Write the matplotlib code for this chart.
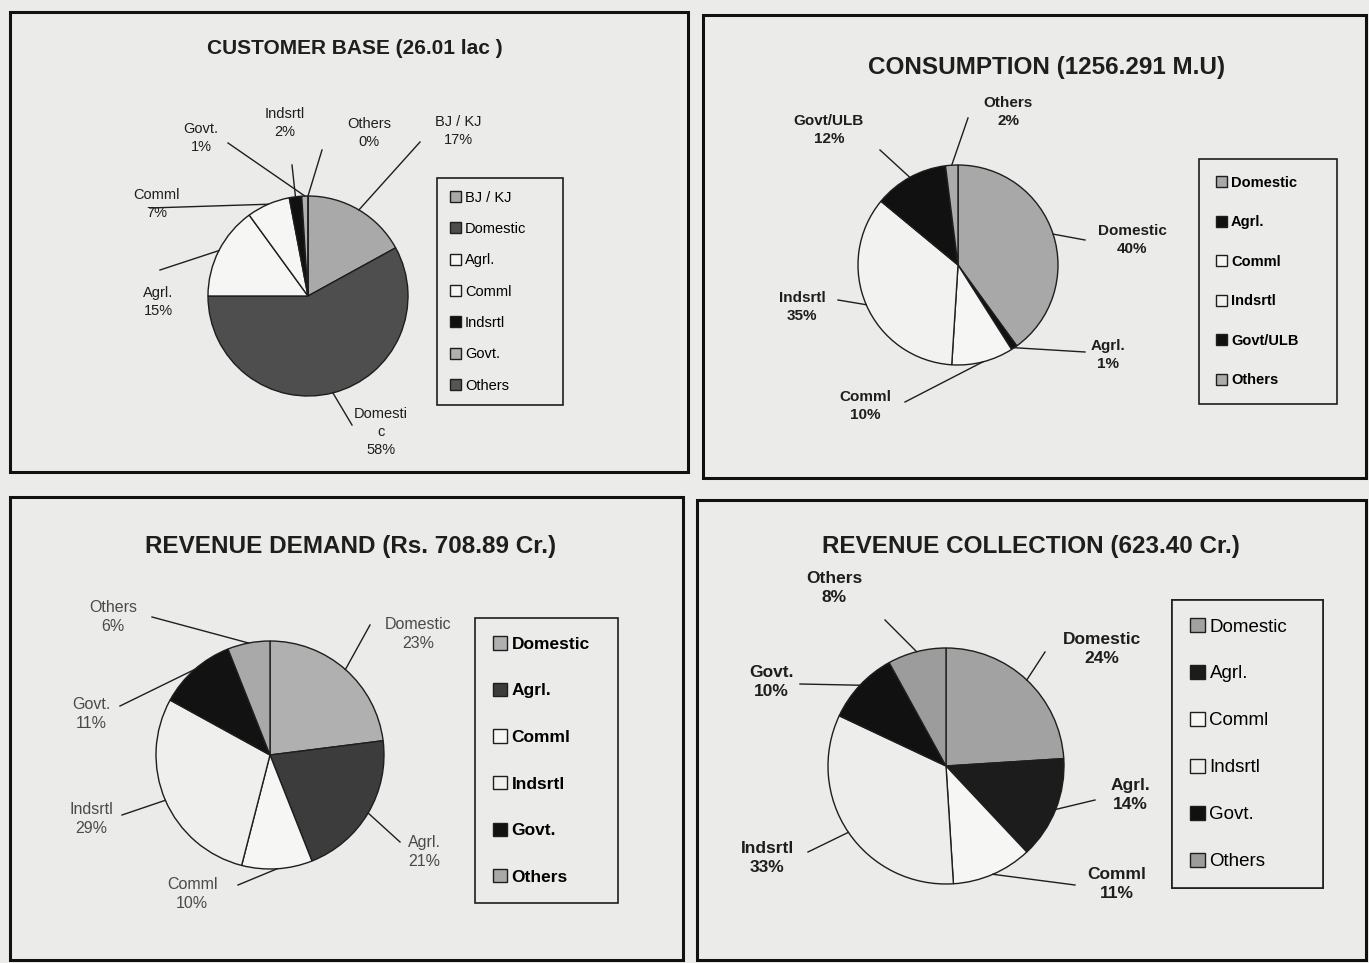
import matplotlib
matplotlib.use("Agg")
import numpy as np
import matplotlib.pyplot as plt
from matplotlib.patches import Rectangle

W, H = 1369, 963
PAPER = "#ebebe9"
INK = "#1e1e1e"

# ---- data ----
cb_labels = ["BJ / KJ", "Domestic", "Agrl.", "Comml", "Indsrtl", "Govt.", "Others"]
cb_values = [17, 58, 15, 7, 2, 1, 0]

cons_labels = ["Domestic", "Agrl.", "Comml", "Indsrtl", "Govt/ULB", "Others"]
cons_values = [40, 1, 10, 35, 12, 2]

rd_labels = ["Domestic", "Agrl.", "Comml", "Indsrtl", "Govt.", "Others"]
rd_values = [23, 21, 10, 29, 11, 6]

rc_labels = ["Domestic", "Agrl.", "Comml", "Indsrtl", "Govt.", "Others"]
rc_values = [24, 14, 11, 33, 10, 8]

# ---- layout (pixel coords, y down) ----
panels = [
    dict(title="CUSTOMER BASE (26.01 lac )", labels=cb_labels, values=cb_values,
         box=(10, 12, 678, 460), title_xy=(355, 48), title_fs=15, title_w="bold",
         center=(308, 296), r=100,
         colors=["#a9a9a9", "#4e4e4e", "#f6f6f4", "#f6f6f4", "#111111", "#b0b0b0", "#555555"],
         wedge_names=["BJ / KJ\n17%", "Domesti\nc\n58%", "Agrl.\n15%", "Comml\n7%",
                      "Indsrtl\n2%", "Govt.\n1%", "Others\n0%"],
         text_xy=[(458, 131), (381, 432), (158, 302), (157, 204), (285, 123), (201, 138), (369, 133)],
         line_xy=[(420, 142), (352, 425), (160, 270), (150, 208), (292, 165), (228, 143), (322, 150)],
         lab_fs=10.5, lab_w="normal", lab_c=INK,
         leg=(437, 179, 126), leg_fs=10.5, leg_w="normal", leg_sp=1.19, leg_bp=0.86),
    dict(title="CONSUMPTION (1256.291 M.U)", labels=cons_labels, values=cons_values,
         box=(703, 15, 663, 463), title_xy=(1047, 67), title_fs=17.5, title_w="bold",
         center=(958, 265), r=100,
         colors=["#a8a8a8", "#111111", "#f6f6f4", "#f2f2f0", "#111111", "#ababab"],
         wedge_names=["Domestic\n40%", "Agrl.\n1%", "Comml\n10%", "Indsrtl\n35%",
                      "Govt/ULB\n12%", "Others\n2%"],
         text_xy=[(1132, 240), (1108, 355), (865, 406), (802, 307), (829, 130), (1008, 112)],
         line_xy=[(1085, 240), (1085, 352), (905, 402), (838, 300), (880, 150), (968, 118)],
         lab_fs=11, lab_w="bold", lab_c=INK,
         leg=(1199, 160, 138), leg_fs=10.5, leg_w="bold", leg_sp=1.75, leg_bp=1.14),
    dict(title="REVENUE DEMAND (Rs. 708.89 Cr.)", labels=rd_labels, values=rd_values,
         box=(10, 497, 673, 463), title_xy=(351, 546), title_fs=17.5, title_w="bold",
         center=(270, 755), r=114,
         colors=["#b0b0b0", "#3c3c3c", "#f6f6f4", "#efefed", "#121212", "#a9a9a9"],
         wedge_names=["Domestic\n23%", "Agrl.\n21%", "Comml\n10%", "Indsrtl\n29%",
                      "Govt.\n11%", "Others\n6%"],
         text_xy=[(418, 634), (424, 852), (192, 894), (91, 819), (91, 714), (113, 617)],
         line_xy=[(370, 625), (400, 842), (238, 885), (122, 815), (120, 706), (152, 617)],
         lab_fs=11.5, lab_w="normal", lab_c="#4a4a4a",
         leg=(475, 619, 143), leg_fs=12.5, leg_w="bold", leg_sp=1.78, leg_bp=1.05),
    dict(title="REVENUE COLLECTION (623.40 Cr.)", labels=rc_labels, values=rc_values,
         box=(697, 500, 669, 460), title_xy=(1031, 546), title_fs=17.5, title_w="bold",
         center=(946, 766), r=118,
         colors=["#a2a2a2", "#1c1c1c", "#f6f6f4", "#ededeb", "#111111", "#9c9c9c"],
         wedge_names=["Domestic\n24%", "Agrl.\n14%", "Comml\n11%", "Indsrtl\n33%",
                      "Govt.\n10%", "Others\n8%"],
         text_xy=[(1102, 649), (1130, 795), (1117, 884), (767, 858), (771, 682), (834, 588)],
         line_xy=[(1045, 652), (1095, 800), (1075, 885), (808, 852), (800, 684), (885, 620)],
         lab_fs=12.5, lab_w="bold", lab_c=INK,
         leg=(1172, 601, 151), leg_fs=13.5, leg_w="normal", leg_sp=1.56, leg_bp=0.95),
]

plt.rcParams["font.family"] = ["Liberation Sans", "DejaVu Sans"]

fig = plt.figure(figsize=(W / 100, H / 100), dpi=100, facecolor=PAPER)
ax = fig.add_axes([0, 0, 1, 1])
ax.set_facecolor(PAPER)

legends = []
for p in panels:
    cx, cy = p["center"]
    wedges, _ = ax.pie(p["values"], colors=p["colors"], startangle=90, counterclock=False,
                       center=(cx, H - cy), radius=p["r"],
                       wedgeprops=dict(edgecolor=INK, linewidth=1.0))

    # panel frame and title
    x0, y0, w, h = p["box"]
    ax.add_patch(Rectangle((x0, H - y0 - h), w, h, fill=False, edgecolor="#111111", linewidth=2.2))
    tx, ty = p["title_xy"]
    ax.text(tx, H - ty, p["title"], ha="center", va="center", fontsize=p["title_fs"],
            fontweight=p["title_w"], color=INK)

    # data labels with leader lines
    for wdg, name, (lx, ly), (sx, sy) in zip(wedges, p["wedge_names"], p["text_xy"], p["line_xy"]):
        mid = np.deg2rad((wdg.theta1 + wdg.theta2) / 2)
        ex = wdg.center[0] + wdg.r * np.cos(mid)
        ey = wdg.center[1] + wdg.r * np.sin(mid)
        ax.plot([sx, ex], [H - sy, ey], color=INK, linewidth=1.0)
        ax.text(lx, H - ly, name, ha="center", va="center", fontsize=p["lab_fs"],
                fontweight=p["lab_w"], color=p["lab_c"], linespacing=1.4)

    lx0, ly0, lw = p["leg"]
    leg = ax.legend(wedges, p["labels"], loc="upper left",
                    bbox_to_anchor=(lx0, H - ly0, lw, 1), bbox_transform=ax.transData,
                    mode="expand", prop=dict(size=p["leg_fs"], weight=p["leg_w"]),
                    labelspacing=p["leg_sp"],
                    handlelength=0.8, handleheight=0.8, handletextpad=0.25,
                    borderpad=p["leg_bp"], borderaxespad=0, fancybox=False, frameon=True,
                    edgecolor=INK, facecolor=PAPER, framealpha=1)
    leg.get_frame().set_linewidth(1.2)
    legends.append(leg)

for leg in legends:
    ax.add_artist(leg)

ax.set_xlim(0, W)
ax.set_ylim(0, H)
ax.set_aspect("auto")
ax.axis("off")

fig.savefig("out.png", dpi=100, facecolor=PAPER)
